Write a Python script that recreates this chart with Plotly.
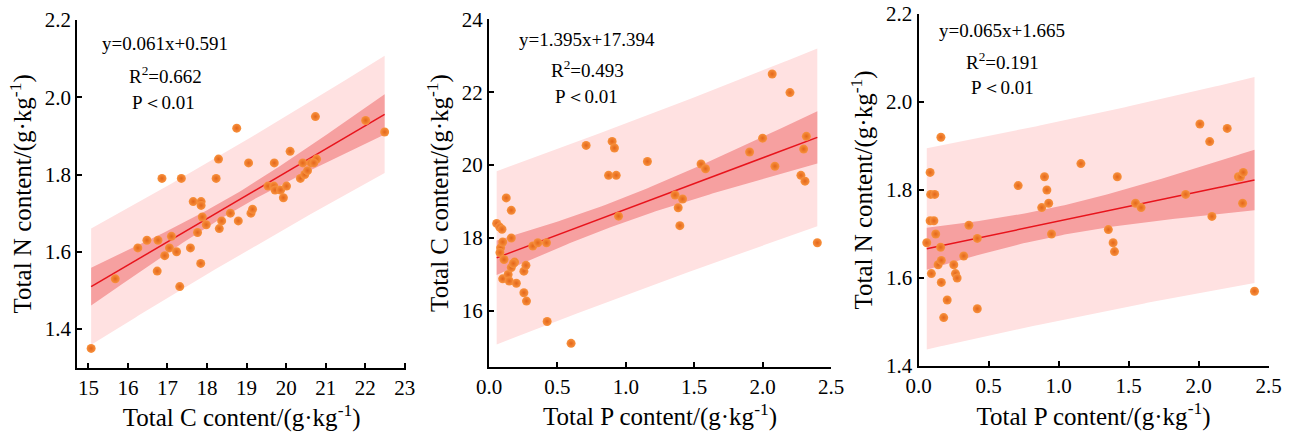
import numpy as np
import plotly.graph_objects as go

# ---------------- data ----------------
# Panel 1: Total C (x) vs Total N (y)
c1_x = [15.07, 15.68, 16.25, 16.48, 16.76, 16.74, 16.86, 16.93, 17.05, 17.10, 17.23, 17.31,
        17.35, 17.58, 17.65, 17.76, 17.84, 17.85, 17.85, 17.88, 17.98, 18.23, 18.29, 18.31,
        18.37, 18.59, 18.75, 18.79, 19.05, 19.11, 19.15, 19.54, 19.70, 19.69, 19.72, 19.86,
        19.93, 20.01, 20.10, 20.36, 20.42, 20.47, 20.54, 20.63, 20.74, 20.77, 20.70, 22.01, 22.49]
n1_y = [1.35, 1.53, 1.61, 1.63, 1.63, 1.55, 1.79, 1.59, 1.61, 1.64, 1.60, 1.51,
        1.79, 1.61, 1.73, 1.65, 1.57, 1.73, 1.72, 1.69, 1.67, 1.79, 1.84, 1.66,
        1.68, 1.70, 1.92, 1.68, 1.83, 1.70, 1.71, 1.77, 1.83, 1.77, 1.76, 1.76,
        1.74, 1.77, 1.86, 1.79, 1.83, 1.80, 1.81, 1.83, 1.95, 1.84, 1.83, 1.94, 1.91]

# Panel 2: Total P (x) vs Total C (y)
p2_x = [0.056, 0.078, 0.095, 0.085, 0.080, 0.100, 0.110, 0.100, 0.126, 0.140, 0.148, 0.163,
        0.163, 0.163, 0.187, 0.178, 0.200, 0.255, 0.255, 0.270, 0.274, 0.320, 0.357, 0.420,
        0.425, 0.600, 0.710, 0.874, 0.900, 0.917, 0.930, 0.947, 1.158, 1.360, 1.383, 1.415,
        1.395, 1.550, 1.583, 1.905, 2.000, 2.070, 2.090, 2.200, 2.280, 2.310, 2.300, 2.320, 2.400]
c2_y = [18.40, 18.30, 18.24, 17.73, 17.60, 17.89, 17.41, 16.88, 19.10, 17.00, 16.82, 18.76,
        18.00, 17.19, 17.34, 17.30, 16.76, 16.50, 17.09, 17.25, 16.27, 17.78, 17.87, 17.87,
        15.71, 15.11, 20.54, 19.72, 20.65, 20.47, 19.72, 18.60, 20.10, 19.18, 18.83, 19.07,
        18.34, 20.03, 19.90, 20.36, 20.74, 22.50, 19.97, 21.99, 19.72, 19.56, 20.44, 20.79, 17.87]

# Panel 3: Total P (x) vs Total N (y)  (the P=0.60 sample has N=1.35, below the axis range)
p3_x = [0.059, 0.083, 0.087, 0.116, 0.083, 0.110, 0.092, 0.123, 0.140, 0.158, 0.160, 0.163,
        0.163, 0.180, 0.205, 0.252, 0.264, 0.276, 0.323, 0.360, 0.420, 0.420, 0.600, 0.712, 0.880,
        0.900, 0.917, 0.930, 0.950, 1.160, 1.356, 1.390, 1.400, 1.420, 1.550, 1.590, 1.908,
        2.010, 2.080, 2.096, 2.205, 2.285, 2.300, 2.320, 2.315, 2.400]
n3_y = [1.68, 1.84, 1.79, 1.79, 1.73, 1.73, 1.61, 1.70, 1.63, 1.67, 1.92, 1.59,
        1.64, 1.51, 1.55, 1.63, 1.61, 1.60, 1.65, 1.72, 1.69, 1.53, 1.35, 1.81, 1.76,
        1.83, 1.80, 1.77, 1.70, 1.86, 1.71, 1.68, 1.66, 1.83, 1.77, 1.76, 1.79,
        1.95, 1.91, 1.74, 1.94, 1.83, 1.83, 1.84, 1.77, 1.57]

equations = ["y=0.061x+0.591", "y=1.395x+17.394", "y=0.065x+1.665"]
r2_labels = ["R<sup>2</sup>=0.662", "R<sup>2</sup>=0.493", "R<sup>2</sup>=0.191"]
p_labels = ["P＜0.01", "P＜0.01", "P＜0.01"]
x_titles = ["Total C content/(g·kg<sup>-1</sup>)", "Total P content/(g·kg<sup>-1</sup>)",
            "Total P content/(g·kg<sup>-1</sup>)"]
y_titles = ["Total N content/(g·kg<sup>-1</sup>)", "Total C content/(g·kg<sup>-1</sup>)",
            "Total N content/(g·kg<sup>-1</sup>)"]
x_ticks = [[15, 16, 17, 18, 19, 20, 21, 22, 23], [0.0, 0.5, 1.0, 1.5, 2.0, 2.5], [0.0, 0.5, 1.0, 1.5, 2.0, 2.5]]
x_ticktext = [[str(v) for v in x_ticks[0]], ["0.0", "0.5", "1.0", "1.5", "2.0", "2.5"],
              ["0.0", "0.5", "1.0", "1.5", "2.0", "2.5"]]
y_ticks = [[1.4, 1.6, 1.8, 2.0, 2.2], [16, 18, 20, 22, 24], [1.4, 1.6, 1.8, 2.0, 2.2]]
y_ticktext = [["1.4", "1.6", "1.8", "2.0", "2.2"], ["16", "18", "20", "22", "24"],
              ["1.4", "1.6", "1.8", "2.0", "2.2"]]

# ---------------- layout geometry ----------------
W, H = 1296, 443
x_ranges = [[14.72, 23.03], [0.0, 2.5], [0.0, 2.5]]
y_ranges = [[1.30, 2.2], [14.47, 24.0], [1.4, 2.2]]
x_dom_px = [(77.3, 406.0), (489.0, 831.0), (918.5, 1268.5)]
y_dom_px = [(367.7, 20.0), (366.7, 19.3), (366.0, 14.0)]   # (bottom, top) in pixels from top
ann_px = [[(165, 43), (165, 75), (163, 102)],
          [(587, 39), (587, 69), (586, 97)],
          [(1002, 31), (1002, 61), (1002, 88)]]

FONT = "Liberation Serif"
LIGHT = "#FFE1E1"
DARK = "#F6A0A0"
LINE = "#E8141C"


def t975(df):
    z = 1.959964
    return z + (z**3 + z) / (4 * df) + (5 * z**5 + 16 * z**3 + 3 * z) / (96 * df**2)


def fit_bands(x, y):
    x = np.asarray(x, float)
    y = np.asarray(y, float)
    n = len(x)
    b, a = np.polyfit(x, y, 1)
    resid = y - (a + b * x)
    s = np.sqrt(np.sum(resid**2) / (n - 2))
    xm = x.mean()
    sxx = np.sum((x - xm) ** 2)
    xs = np.linspace(x.min(), x.max(), 120)
    ys = a + b * xs
    t = t975(n - 2)
    ci = t * s * np.sqrt(1 / n + (xs - xm) ** 2 / sxx)
    pi = t * s * np.sqrt(1 + 1 / n + (xs - xm) ** 2 / sxx)
    return xs, ys, ci, pi


series = [(c1_x, n1_y), (p2_x, c2_y), (p3_x, n3_y)]

fig = go.Figure()
for i, (xd, yd) in enumerate(series):
    xa = "x" if i == 0 else f"x{i+1}"
    ya = "y" if i == 0 else f"y{i+1}"
    xs, ys, ci, pi = fit_bands(xd, yd)
    fig.add_trace(go.Scatter(x=np.concatenate([xs, xs[::-1]]),
                             y=np.concatenate([ys + pi, (ys - pi)[::-1]]),
                             fill="toself", fillcolor=LIGHT, line=dict(width=0),
                             mode="lines", hoverinfo="skip", showlegend=False,
                             xaxis=xa, yaxis=ya))
    fig.add_trace(go.Scatter(x=np.concatenate([xs, xs[::-1]]),
                             y=np.concatenate([ys + ci, (ys - ci)[::-1]]),
                             fill="toself", fillcolor=DARK, line=dict(width=0),
                             mode="lines", hoverinfo="skip", showlegend=False,
                             xaxis=xa, yaxis=ya))
    fig.add_trace(go.Scatter(x=xs, y=ys, mode="lines", line=dict(color=LINE, width=1.5),
                             showlegend=False, xaxis=xa, yaxis=ya))
    fig.add_trace(go.Scatter(x=xd, y=yd, mode="markers",
                             marker=dict(size=9, color="#F8923E",
                                         gradient=dict(type="radial", color="#E4661A"),
                                         line=dict(width=0)),
                             showlegend=False, xaxis=xa, yaxis=ya, cliponaxis=True))

layout = dict(width=W, height=H, margin=dict(l=0, r=0, t=0, b=0, autoexpand=False),
              paper_bgcolor="white", plot_bgcolor="white", showlegend=False,
              font=dict(family=FONT, color="black"))

for i in range(3):
    xk = "xaxis" if i == 0 else f"xaxis{i+1}"
    yk = "yaxis" if i == 0 else f"yaxis{i+1}"
    xa_id = "x" if i == 0 else f"x{i+1}"
    ya_id = "y" if i == 0 else f"y{i+1}"
    xd0, xd1 = x_dom_px[i]
    yb, yt = y_dom_px[i]
    common = dict(showline=True, linecolor="black", linewidth=2, mirror=False,
                  ticks="inside", ticklen=5, tickwidth=2, tickcolor="black",
                  showgrid=False, zeroline=False, automargin=False,
                  tickfont=dict(family=FONT, size=21, color="black"))
    layout[xk] = dict(common, domain=[xd0 / W, xd1 / W], range=x_ranges[i], anchor=ya_id,
                      tickvals=x_ticks[i], ticktext=x_ticktext[i], ticklabelstandoff=0,
                      title=dict(text=x_titles[i], font=dict(family=FONT, size=25, color="black"),
                                 standoff=1))
    layout[yk] = dict(common, domain=[1 - yb / H, 1 - yt / H], range=y_ranges[i], anchor=xa_id,
                      tickvals=y_ticks[i], ticktext=y_ticktext[i], ticklabelstandoff=0,
                      title=dict(text=y_titles[i], font=dict(family=FONT, size=25, color="black"),
                                 standoff=6))

annotations = []
for i in range(3):
    texts = [equations[i], r2_labels[i], p_labels[i]]
    for (px, py), t in zip(ann_px[i], texts):
        annotations.append(dict(x=px / W, y=1 - py / H, xref="paper", yref="paper",
                                text=t, showarrow=False, xanchor="center", yanchor="middle",
                                font=dict(family=FONT, size=19, color="black")))
layout["annotations"] = annotations

fig.update_layout(**layout)
fig.write_html("out.html", config={"displayModeBar": False},
               post_script="document.body.style.margin='0';document.body.style.padding='0';")
